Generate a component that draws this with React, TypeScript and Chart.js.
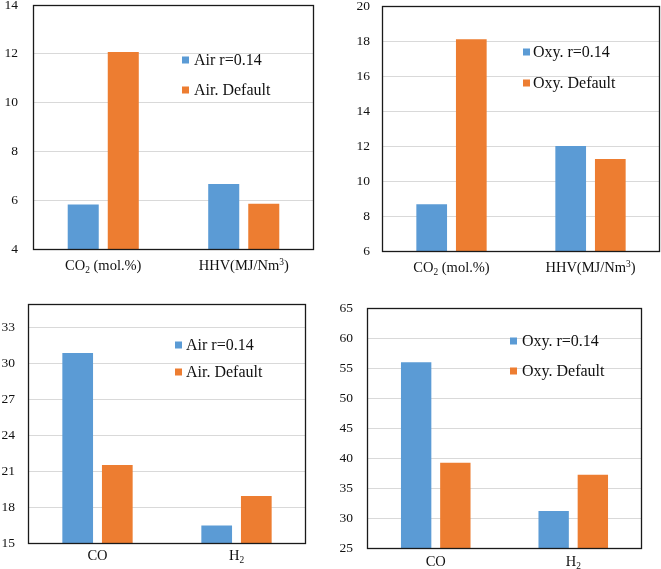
import React, { useEffect, useRef } from "react";
import { Chart, registerables } from "chart.js";

Chart.register(...registerables);

const BLUE = "#5B9BD5";
const ORANGE = "#ED7D31";
const SERIF = '"Liberation Serif", "Times New Roman", serif';

// ---------- data ----------
const topCategories = ["CO₂ (mol.%)", "HHV(MJ/Nm³)"];
const bottomCategories = ["CO", "H₂"];

const airLabels = ["Air r=0.14", "Air. Default"];
const oxyLabels = ["Oxy. r=0.14", "Oxy. Default"];

const airR014Top = [5.82, 6.66];
const airDefaultTop = [12.07, 5.85];
const oxyR014Top = [8.67, 12.0];
const oxyDefaultTop = [18.1, 11.26];

const airR014Bottom = [30.89, 16.47];
const airDefaultBottom = [21.53, 18.94];
const oxyR014Bottom = [55.95, 31.17];
const oxyDefaultBottom = [39.2, 37.2];

const airTopAxis = [4, 14, 2];
const oxyTopAxis = [6, 20, 2];
const airBottomAxis = [15, 35, 3];
const oxyBottomAxis = [25, 65, 5];

// ---------- rich text helper ----------
const SUB: Record<string, string> = { "₀": "0", "₁": "1", "₂": "2", "₃": "3", "₄": "4", "₅": "5", "₆": "6", "₇": "7", "₈": "8", "₉": "9" };
const SUP: Record<string, string> = { "⁰": "0", "¹": "1", "²": "2", "³": "3", "⁴": "4", "⁵": "5", "⁶": "6", "⁷": "7", "⁸": "8", "⁹": "9" };

function drawRich(ctx: CanvasRenderingContext2D, text: string, cx: number, cy: number, size: number) {
  const segs = Array.from(text).map((ch) =>
    SUB[ch] ? { t: SUB[ch], k: "sub" } : SUP[ch] ? { t: SUP[ch], k: "sup" } : { t: ch, k: "n" }
  );
  const small = size * 0.65;
  let total = 0;
  const widths = segs.map((s) => {
    ctx.font = `${s.k === "n" ? size : small}px ${SERIF}`;
    const w = ctx.measureText(s.t).width;
    total += w;
    return w;
  });
  let x = cx - total / 2;
  const base = cy + size * 0.34;
  ctx.textAlign = "left";
  ctx.textBaseline = "alphabetic";
  segs.forEach((s, i) => {
    ctx.font = `${s.k === "n" ? size : small}px ${SERIF}`;
    const y = s.k === "sub" ? base + size * 0.2 : s.k === "sup" ? base - size * 0.36 : base;
    ctx.fillText(s.t, x, y);
    x += widths[i];
  });
}

type PanelCfg = {
  left: number;
  top: number;
  width: number;
  height: number;
  area: [number, number, number, number];
  categories: string[];
  labels: string[];
  series: number[][];
  axis: number[];
  tickPad: number;
  xLabelOffset: number;
  legendX: number;
  legendTextX: number;
  legendY: [number, number];
};

const panels: PanelCfg[] = [
  {
    left: 0, top: 0, width: 330, height: 285,
    area: [33, 5, 314, 249],
    categories: topCategories, labels: airLabels, series: [airR014Top, airDefaultTop],
    axis: airTopAxis, tickPad: 15, xLabelOffset: 16,
    legendX: 182, legendTextX: 194, legendY: [60, 90],
  },
  {
    left: 330, top: 0, width: 331, height: 285,
    area: [52, 6, 330, 251],
    categories: topCategories, labels: oxyLabels, series: [oxyR014Top, oxyDefaultTop],
    axis: oxyTopAxis, tickPad: 12, xLabelOffset: 16,
    legendX: 193, legendTextX: 203, legendY: [52, 83],
  },
  {
    left: 0, top: 285, width: 330, height: 284,
    area: [28, 19, 306, 258],
    categories: bottomCategories, labels: airLabels, series: [airR014Bottom, airDefaultBottom],
    axis: airBottomAxis, tickPad: 13, xLabelOffset: 12,
    legendX: 175, legendTextX: 186, legendY: [60, 87],
  },
  {
    left: 330, top: 285, width: 331, height: 284,
    area: [37, 23, 312, 263],
    categories: bottomCategories, labels: oxyLabels, series: [oxyR014Bottom, oxyDefaultBottom],
    axis: oxyBottomAxis, tickPad: 14, xLabelOffset: 13,
    legendX: 180, legendTextX: 192, legendY: [56, 86],
  },
];

function Panel({ cfg }: { cfg: PanelCfg }) {
  const ref = useRef<HTMLCanvasElement>(null);
  useEffect(() => {
    if (!ref.current) return;
    const [aL, aT, aR, aB] = cfg.area;
    const [yMin, yMax, yStep] = cfg.axis;
    const colors = [BLUE, ORANGE];

    const overlay = {
      id: "overlay" + cfg.left + "_" + cfg.top,
      afterDraw(chart: any) {
        const ctx: CanvasRenderingContext2D = chart.ctx;
        const ca = chart.chartArea;
        ctx.save();
        // frame
        ctx.strokeStyle = "#1a1a1a";
        ctx.lineWidth = 1.3;
        ctx.strokeRect(Math.round(ca.left) + 0.5, Math.round(ca.top) + 0.5, Math.round(ca.right - ca.left) - 1, Math.round(ca.bottom - ca.top));
        // x labels
        ctx.fillStyle = "#111";
        const xs = chart.scales.x;
        cfg.categories.forEach((c, i) => {
          drawRich(ctx, c, xs.getPixelForTick(i), ca.bottom + cfg.xLabelOffset, 14.5);
        });
        // legend
        cfg.labels.forEach((lab, i) => {
          const yc = cfg.legendY[i];
          ctx.fillStyle = colors[i];
          ctx.fillRect(cfg.legendX, yc - 3.5, 7, 7);
          ctx.fillStyle = "#111";
          ctx.font = `16px ${SERIF}`;
          ctx.textAlign = "left";
          ctx.textBaseline = "middle";
          ctx.fillText(lab, cfg.legendTextX, yc + 1);
        });
        ctx.restore();
      },
    };

    const chart = new Chart(ref.current, {
      type: "bar",
      data: {
        labels: cfg.categories,
        datasets: cfg.series.map((s, i) => ({
          label: cfg.labels[i],
          data: s,
          backgroundColor: colors[i],
          borderWidth: 0,
          categoryPercentage: 0.57,
          barPercentage: 0.775,
        })),
      },
      options: {
        responsive: false,
        animation: false,
        events: [],
        layout: { padding: { left: 0, top: aT, right: cfg.width - aR, bottom: 0 } },
        plugins: { legend: { display: false }, tooltip: { enabled: false } },
        scales: {
          x: {
            grid: { display: false, drawTicks: false },
            border: { display: false },
            ticks: { display: false },
            afterFit: (s: any) => {
              s.height = cfg.height - aB;
              s.paddingLeft = 0;
              s.paddingRight = 0;
            },
          },
          y: {
            min: yMin,
            max: yMax,
            grid: { color: "#d9d9d9", drawTicks: false },
            border: { display: false },
            ticks: {
              stepSize: yStep,
              padding: cfg.tickPad,
              color: "#111",
              font: { family: SERIF, size: 13.5 },
            },
            afterBuildTicks: (s: any) => {
              s.ticks = s.ticks.filter((t: any) => {
                const k = (t.value - yMin) / yStep;
                return Math.abs(k - Math.round(k)) < 1e-6;
              });
            },
            afterFit: (s: any) => {
              s.width = aL;
              s.paddingTop = 0;
              s.paddingBottom = 0;
            },
          },
        },
      },
      plugins: [overlay],
    } as any);
    return () => chart.destroy();
  }, [cfg]);

  return (
    <canvas
      ref={ref}
      width={cfg.width}
      height={cfg.height}
      style={{ position: "absolute", left: cfg.left, top: cfg.top, width: cfg.width, height: cfg.height }}
    />
  );
}

export default function App() {
  return (
    <div style={{ position: "absolute", left: 0, top: 0, width: 661, height: 569, background: "#fff", overflow: "hidden" }}>
      {panels.map((p, i) => (
        <Panel key={i} cfg={p} />
      ))}
    </div>
  );
}
